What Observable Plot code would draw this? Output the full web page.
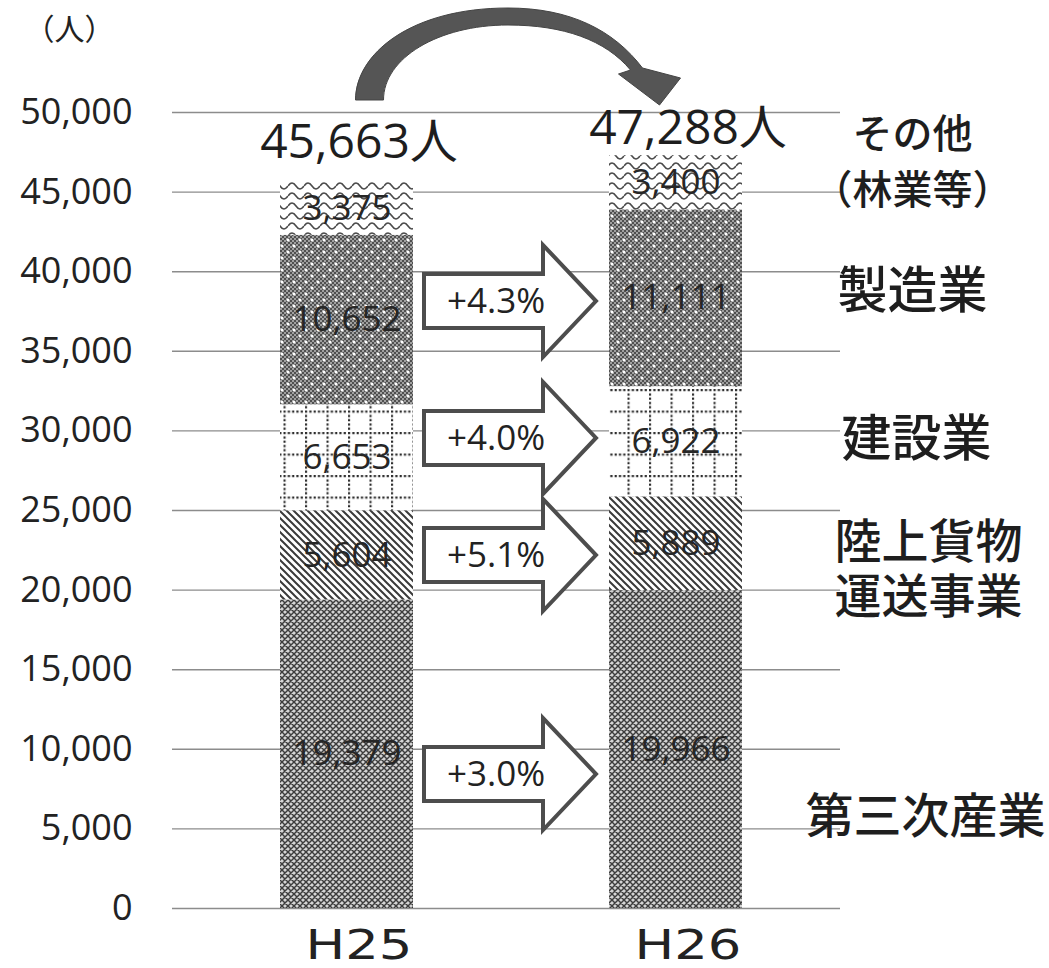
<!DOCTYPE html>
<html><head><meta charset="utf-8">
<script src="https://cdn.jsdelivr.net/npm/d3@7"></script>
<script src="https://cdn.jsdelivr.net/npm/@observablehq/plot@0.6"></script>
<style>body{margin:0;background:#fff;}</style>
</head><body><div id="chart"></div>
<script>
// ---- data ----
const years = ["H25", "H26"];
const categories = ["第三次産業", "陸上貨物運送事業", "建設業", "製造業", "その他（林業等）"];
const valuesH25 = [19379, 5604, 6653, 10652, 3375];
const valuesH26 = [19966, 5889, 6922, 11111, 3400];
const yTicks = [0, 5000, 10000, 15000, 20000, 25000, 30000, 35000, 40000, 45000, 50000];
const unitLabel = "（人）";
const categoryLabels = ["第三次産業", "陸上貨物\n運送事業", "建設業", "製造業", "その他\n（林業等）"];

// ---- annotation layout (data-unit levels, styles) ----
const arrowLevels = [8417, 22173, 29523, 38128];
const labelLayout = [
  {y: 5840, dx: 85, size: 48, lh: 1.15},
  {y: 21390, dx: 88, size: 47, lh: 1.17},
  {y: 29400, dx: 76, size: 50, lh: 1},
  {y: 38700, dx: 72, size: 50, lh: 1},
  {y: 47110, dx: 72, size: 40, lh: 1.4}
];

const fmt = d3.format(",");
const rows = years.flatMap((yr, j) => categories.map((c, i) => ({year: yr, cat: c, value: (j ? valuesH26 : valuesH25)[i]})));
const totals = years.map((yr, j) => ({year: yr, total: d3.sum(j ? valuesH26 : valuesH25)}));
const growth = categories.slice(0, 4).map((c, i) => ({
  cat: c,
  label: "+" + d3.format(".1f")((valuesH26[i] / valuesH25[i] - 1) * 100) + "%",
  level: arrowLevels[i]
}));
const rightLabels = categoryLabels.map((t, i) => ({text: t, ...labelLayout[i]}));

const bandwidthOf = (x) => typeof x.bandwidth === "function" ? x.bandwidth() : (x.bandwidth || 0);

function patternDefs() {
  const defs = d3.create("svg:defs");
  // 0: 第三次産業 – dense crosshatch
  let p = defs.append("pattern").attr("id", "pat0").attr("patternUnits", "userSpaceOnUse").attr("width", 6).attr("height", 6);
  p.append("rect").attr("width", 6).attr("height", 6).attr("fill", "#d4d4d4");
  p.append("path").attr("d", "M0,0L6,6M6,0L0,6M-1,5L1,7M5,-1L7,1M-1,1L1,-1M5,7L7,5").attr("stroke", "#3c3c3c").attr("stroke-width", 1.45);
  // 1: 陸上貨物 – diagonal lines
  p = defs.append("pattern").attr("id", "pat1").attr("patternUnits", "userSpaceOnUse").attr("width", 7).attr("height", 7);
  p.append("rect").attr("width", 7).attr("height", 7).attr("fill", "#fff");
  p.append("path").attr("d", "M0,0L7,7M-1,6L1,8M6,-1L8,1").attr("stroke", "#3a3a3a").attr("stroke-width", 2);
  // 2: 建設業 – dotted grid
  p = defs.append("pattern").attr("id", "pat2").attr("patternUnits", "userSpaceOnUse").attr("width", 21.5).attr("height", 21.5).attr("x", 4).attr("y", 2);
  p.append("rect").attr("width", 21.5).attr("height", 21.5).attr("fill", "#fff");
  p.append("path").attr("d", "M1,0V21.5M0,1H21.5").attr("stroke", "#2a2a2a").attr("stroke-width", 2.2).attr("stroke-dasharray", "2.2,2.1");
  // 3: 製造業 – dark checker with white dots
  const chk = defs.append("pattern").attr("id", "chk").attr("patternUnits", "userSpaceOnUse").attr("width", 4).attr("height", 4);
  chk.append("rect").attr("width", 4).attr("height", 4).attr("fill", "#505050");
  chk.append("rect").attr("width", 2).attr("height", 2).attr("fill", "#a0a0a0");
  chk.append("rect").attr("x", 2).attr("y", 2).attr("width", 2).attr("height", 2).attr("fill", "#a0a0a0");
  p = defs.append("pattern").attr("id", "pat3").attr("patternUnits", "userSpaceOnUse").attr("width", 12).attr("height", 12);
  p.append("rect").attr("width", 12).attr("height", 12).attr("fill", "url(#chk)");
  for (const [cx, cy] of [[6, 6], [0, 0], [12, 12], [12, 0], [0, 12]]) {
    p.append("circle").attr("cx", cx).attr("cy", cy).attr("r", 1.5).attr("fill", "#fff");
  }
  // 4: その他 – wavy lines
  p = defs.append("pattern").attr("id", "pat4").attr("patternUnits", "userSpaceOnUse").attr("width", 16).attr("height", 10);
  p.append("rect").attr("width", 16).attr("height", 10).attr("fill", "#fff");
  p.append("path").attr("d", "M0,6Q4,0 8,6T16,6").attr("fill", "none").attr("stroke", "#4a4a4a").attr("stroke-width", 1.6);
  return defs.node();
}

function blockArrows(index, scales) {
  const {x, y} = scales;
  const bw = bandwidthOf(x);
  const left = x(years[0]) + bw + 11;
  const tip = x(years[1]) - 13;
  const hs = tip - 53;
  const g = d3.create("svg:g");
  for (const d of growth) {
    const cy = y(d.level);
    g.append("path")
      .attr("d", `M${left},${cy - 27}H${hs}V${cy - 56}L${tip},${cy}L${hs},${cy + 56}V${cy + 27}H${left}Z`)
      .attr("fill", "#fff").attr("stroke", "#4d4d4d").attr("stroke-width", 4);
  }
  return g.node();
}

function curvedArrow(index, scales) {
  const {x, y} = scales;
  const bw = bandwidthOf(x);
  const a = x(years[0]) + bw / 2, b = x(years[1]) + bw / 2, t = y(yTicks[yTicks.length - 1]);
  const m = (a + b) / 2 - 3;
  const d = `M${a + 9},${t - 12} C${a + 9},${t - 58} ${a + 64},${t - 104} ${m},${t - 104} ` +
    `C${m + 62},${t - 104} ${b - 62},${t - 82} ${b - 33},${t - 44} L${b + 5},${t - 34} L${b - 16},${t - 7} L${b - 57},${t - 38} L${b - 45},${t - 42} ` +
    `C${b - 70},${t - 72} ${b - 112},${t - 87} ${m},${t - 87} C${a + 92},${t - 87} ${a + 37},${t - 54} ${a + 37},${t - 12} Z`;
  const g = d3.create("svg:g");
  g.append("path").attr("d", d).attr("fill", "#555").attr("stroke", "#444").attr("stroke-width", 1).attr("stroke-linejoin", "round");
  return g.node();
}

const sans = "'Open Sans','Noto Sans CJK JP',sans-serif";
const cjk = "'Noto Sans CJK JP',sans-serif";

const chart = Plot.plot({
  width: 1049, height: 968,
  marginLeft: 172, marginRight: 209, marginTop: 112, marginBottom: 60,
  style: {fontFamily: sans, fontSize: "36px", background: "#fff", color: "#222"},
  x: {domain: years, axis: null, paddingInner: 0.596, paddingOuter: 0.313, align: 0.524},
  y: {domain: [0, 50000], axis: null},
  color: {type: "ordinal", domain: categories, range: categories.map((c, i) => `url(#pat${i})`)},
  marks: [
    patternDefs,
    Plot.ruleY(yTicks, {stroke: "#8c8c8c", strokeWidth: 1.4}),
    Plot.barY(rows, {x: "year", y: "value", fill: "cat"}),
    Plot.text(rows, Plot.stackY({x: "year", y: "value", z: "cat", text: d => fmt(d.value), fontSize: 35, fill: "#262626"})),
    blockArrows,
    Plot.text(growth, {x: () => years[0], y: "level", text: "label", dx: 149, fontSize: 35, fill: "#222"}),
    curvedArrow,
    Plot.text(totals.filter(d => d.year === years[0]), {x: "year", y: "total", text: d => fmt(d.total) + "人", dx: 12, dy: -24, lineAnchor: "bottom", fontSize: 48, fill: "#1e1e1e"}),
    Plot.text(totals.filter(d => d.year === years[1]), {x: "year", y: "total", text: d => fmt(d.total) + "人", dx: 12, dy: -12, lineAnchor: "bottom", fontSize: 48, fill: "#1e1e1e"}),
    Plot.text(yTicks, {y: d => d, text: d => fmt(d), frameAnchor: "left", textAnchor: "end", dx: -40, fontSize: 36, fill: "#222"}),
    Plot.text([unitLabel], {text: d => d, frameAnchor: "top-left", textAnchor: "middle", lineAnchor: "middle", dx: -103, dy: -82, fontSize: 30, fontFamily: cjk, fill: "#222"}),
    Plot.text(years, {x: d => d, text: d => d, frameAnchor: "bottom", lineAnchor: "top", dx: 12, dy: 22, fontSize: 40, fontFamily: "'DejaVu Sans',sans-serif", fill: "#222"}),
    ...rightLabels.map(l => Plot.text([l], {y: "y", text: "text", frameAnchor: "right", textAnchor: "middle", dx: l.dx, fontSize: l.size, lineHeight: l.lh, fontFamily: cjk, fontWeight: 500, fill: "#1e1e1e"}))
  ]
});
d3.select(chart).selectAll("text").filter(function () { return years.includes(this.textContent); })
  .attr("transform", function () { return (this.getAttribute("transform") || "") + " scale(1.32,1)"; });
document.getElementById("chart").appendChild(chart);
</script>
</body></html>
